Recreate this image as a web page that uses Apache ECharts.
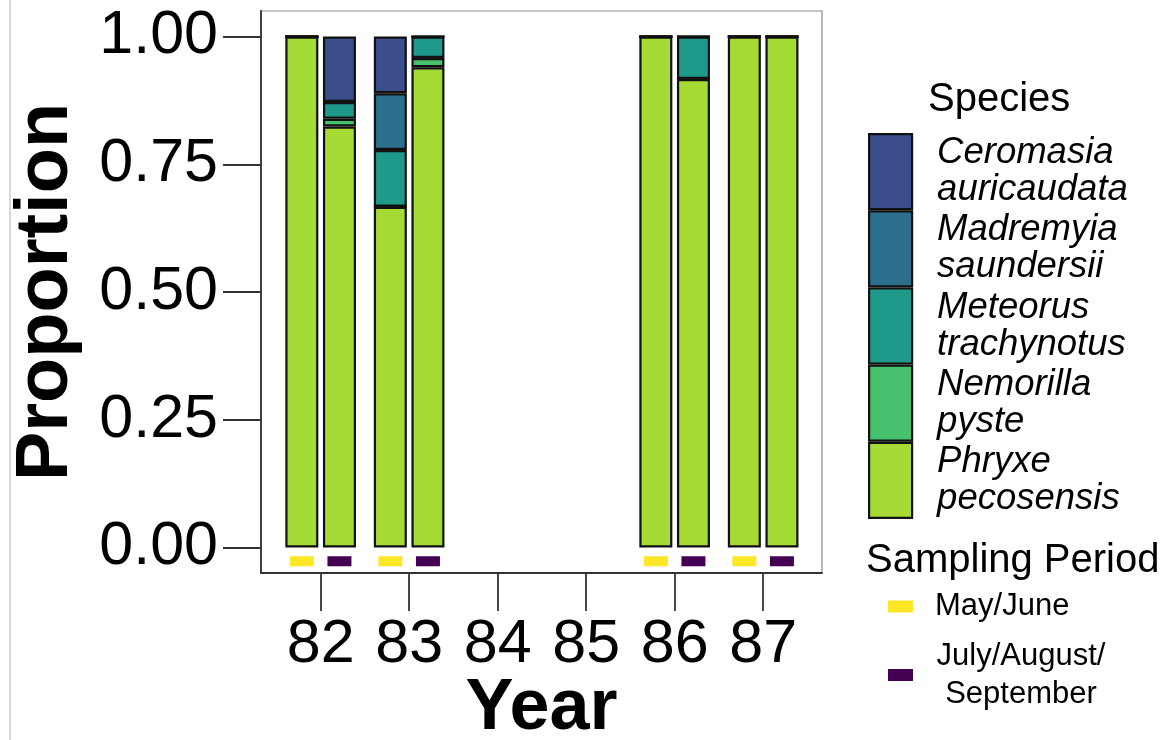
<!DOCTYPE html>
<html><head><meta charset="utf-8">
<script src="https://cdn.jsdelivr.net/npm/echarts@6/dist/echarts.min.js"></script>
<style>html,body{margin:0;padding:0;background:#fff}#c{width:1164px;height:740px}</style>
</head><body><div id="c"></div>
<script>
// ---- data ----
const years = ['82', '83', '84', '85', '86', '87'];
const species = ['Phryxe pecosensis', 'Nemorilla pyste', 'Meteorus trachynotus', 'Madremyia saundersii', 'Ceromasia auricaudata'];
const speciesColors = ['#A6DB35', '#48C16E', '#1F9A8A', '#2C708D', '#3B4D8A'];
// May/June proportions per year (null = not sampled)
const phryxeMay    = [1,     0.667, null, null, 1,     1];
const nemorillaMay = [0,     0,     null, null, 0,     0];
const meteorusMay  = [0,     0.111, null, null, 0,     0];
const madremyiaMay = [0,     0.111, null, null, 0,     0];
const ceromasiaMay = [0,     0.111, null, null, 0,     0];
// July/August/September proportions per year
const phryxeJul    = [0.824, 0.94,  null, null, 0.917, 1];
const nemorillaJul = [0.015, 0.018, null, null, 0,     0];
const meteorusJul  = [0.033, 0.042, null, null, 0.083, 0];
const madremyiaJul = [0,     0,     null, null, 0,     0];
const ceromasiaJul = [0.128, 0,     null, null, 0,     0];
const yTicks = [0, 0.25, 0.5, 0.75, 1];
const periods = ['May/June', 'July/August/September'];
const periodColors = ['#FDE725', '#440154'];
const markerLevel = -0.027;

const mayValues = [phryxeMay, nemorillaMay, meteorusMay, madremyiaMay, ceromasiaMay];
const julValues = [phryxeJul, nemorillaJul, meteorusJul, madremyiaJul, ceromasiaJul];

const FONT = '"Liberation Sans", Arial, Helvetica, sans-serif';
const chart = echarts.init(document.getElementById('c'), null, {renderer: 'canvas'});

const series = [];
function addStack(values, stackName) {
  species.forEach((s, i) => {
    series.push({
      type: 'bar', name: s, stack: stackName, xAxisIndex: 1, yAxisIndex: 1,
      data: values[i], barWidth: 33, barGap: '14%',
      itemStyle: {color: speciesColors[i], borderColor: '#111', borderWidth: 2.2},
      emphasis: {disabled: true}
    });
  });
}
addStack(mayValues, 'may');
addStack(julValues, 'jul');

function markers(ref) {
  const out = [];
  years.forEach((y, i) => { if (ref[i] != null) out.push([y, markerLevel]); });
  return out;
}
series.push({
  type: 'scatter', name: periods[0], xAxisIndex: 1, yAxisIndex: 1,
  symbol: 'rect', symbolSize: [24, 10], symbolOffset: [-18.8, 0],
  itemStyle: {color: periodColors[0], opacity: 1}, data: markers(phryxeMay), z: 3
});
series.push({
  type: 'scatter', name: periods[1], xAxisIndex: 1, yAxisIndex: 1,
  symbol: 'rect', symbolSize: [24, 10], symbolOffset: [18.8, 0],
  itemStyle: {color: periodColors[1], opacity: 1}, data: markers(phryxeJul), z: 3
});

const axisLineStyle = {color: '#333', width: 1.8};
const periodLegendBase = {
  orient: 'vertical', left: 888, padding: 0,
  itemWidth: 25, itemHeight: 12, itemGap: 0, icon: 'rect', selectedMode: false,
  itemStyle: {borderWidth: 0, opacity: 1}
};

chart.setOption({
  animation: false,
  backgroundColor: '#fff',
  textStyle: {fontFamily: FONT},
  grid: [
    {left: 261, top: 11, width: 561, height: 562, show: true, borderColor: '#8c8c8c', borderWidth: 1.2,
      backgroundColor: 'transparent', containLabel: false, outerBoundsMode: 'none'},
    {left: 276.4, top: 11, width: 531, height: 562, containLabel: false, outerBoundsMode: 'none'}
  ],
  xAxis: [
    {gridIndex: 0, type: 'value', min: 0, max: 1,
      axisLine: {show: true, onZero: false, lineStyle: axisLineStyle},
      axisTick: {show: false}, axisLabel: {show: false}, splitLine: {show: false},
      name: 'Year', nameLocation: 'middle', nameGap: 100,
      nameTextStyle: {fontSize: 72, fontWeight: 'bold', color: '#000', fontFamily: FONT}},
    {gridIndex: 1, type: 'category', data: years,
      axisLine: {show: false, onZero: false},
      axisTick: {show: true, alignWithLabel: true, length: 38, lineStyle: axisLineStyle},
      axisLabel: {fontSize: 61, color: '#000', margin: 42, fontFamily: FONT},
      splitLine: {show: false}}
  ],
  yAxis: [
    {gridIndex: 0, type: 'value', min: -0.05, max: 1.05,
      axisLine: {show: true, onZero: false, lineStyle: axisLineStyle},
      axisTick: {show: true, length: 38, customValues: yTicks, lineStyle: axisLineStyle},
      axisLabel: {customValues: yTicks, formatter: v => v.toFixed(2), fontSize: 61, color: '#000', margin: 43, fontFamily: FONT},
      splitLine: {show: false},
      name: 'Proportion', nameLocation: 'middle', nameGap: 177,
      nameTextStyle: {fontSize: 74, fontWeight: 'bold', color: '#000', fontFamily: FONT}},
    {gridIndex: 1, type: 'value', min: -0.05, max: 1.05, show: false, splitLine: {show: false}}
  ],
  legend: [
    {data: species.slice().reverse(), orient: 'vertical', left: 868, top: 133, padding: 0,
      itemWidth: 43, itemHeight: 75, itemGap: 0, icon: 'rect', selectedMode: false,
      formatter: n => n.replace(' ', '\n'),
      itemStyle: {borderColor: '#111', borderWidth: 2.2},
      textStyle: {fontSize: 36.5, fontStyle: 'italic', lineHeight: 37, color: '#000', padding: [0, 0, 0, 20], fontFamily: FONT}},
    Object.assign({}, periodLegendBase, {
      data: [periods[0]], top: 587.5,
      textStyle: {fontSize: 31, lineHeight: 38, color: '#000', padding: [0, 0, 0, 17], fontFamily: FONT}}),
    Object.assign({}, periodLegendBase, {
      data: [periods[1]], top: 637,
      formatter: () => '{c|July/August/}\n{c|September}',
      textStyle: {fontSize: 31, lineHeight: 38, color: '#000', padding: [0, 0, 0, 17], fontFamily: FONT,
        rich: {c: {width: 172, align: 'center', fontSize: 31, lineHeight: 38, color: '#000', fontFamily: FONT}}}})
  ],
  graphic: [
    {type: 'line', shape: {x1: 10, y1: 0, x2: 10, y2: 740}, style: {stroke: '#d9d9d9', lineWidth: 2}, silent: true},
    {type: 'text', left: 928, top: 80, style: {text: 'Species', fontSize: 40, fill: '#000', fontFamily: FONT}},
    {type: 'text', left: 866, top: 541, style: {text: 'Sampling Period', fontSize: 40, fill: '#000', fontFamily: FONT}}
  ],
  series: series
});
</script></body></html>
